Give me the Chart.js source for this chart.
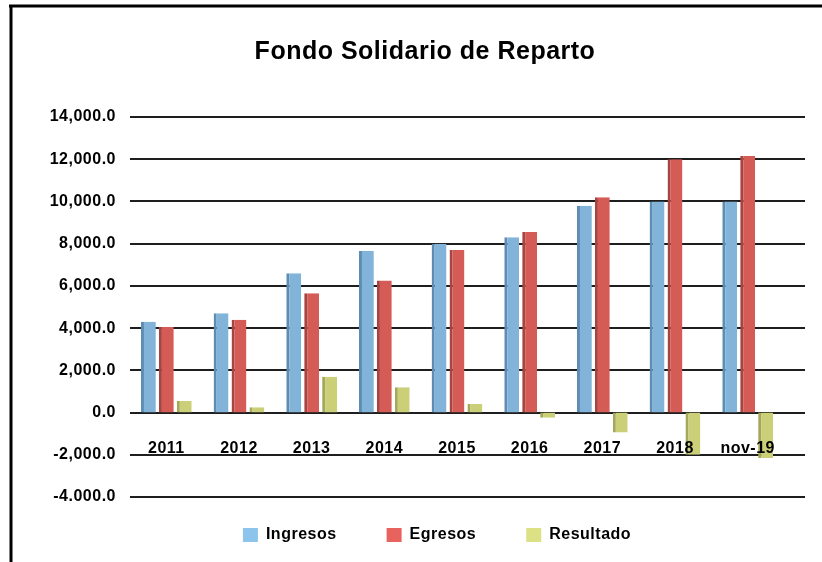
<!DOCTYPE html>
<html>
<head>
<meta charset="utf-8">
<script src="https://cdn.jsdelivr.net/npm/chart.js@4"></script>
<style>
  html, body { margin: 0; padding: 0; background: #ffffff; }
  #wrap { position: relative; width: 822px; height: 562px; }
</style>
</head>
<body>
<div id="wrap"><canvas id="c" width="822" height="562"></canvas></div>
<script>
// ---- data ----
const categories = ['2011', '2012', '2013', '2014', '2015', '2016', '2017', '2018', 'nov-19'];
const ingresos   = [4300, 4700, 6600, 7650, 8000, 8300, 9800, 10000, 10000];
const egresos    = [4050, 4400, 5650, 6250, 7700, 8550, 10200, 12000, 12150];
const resultado  = [550, 250, 1700, 1200, 400, -250, -950, -2000, -2150];
const seriesNames = ['Ingresos', 'Egresos', 'Resultado'];
const yTickValues = [-4000, -2000, 0, 2000, 4000, 6000, 8000, 10000, 12000, 14000];
const yTickLabels = ['-4.000.0', '-2,000.0', '0.0', '2,000.0', '4,000.0', '6,000.0', '8,000.0', '10,000.0', '12,000.0', '14,000.0'];

// ---- styles ----
const FONT = "'Liberation Sans', Arial, Helvetica, sans-serif";
const barColors    = ['#82B4DA', '#D55B56', '#CACF78'];
const sideColors   = ['#5E8DB3', '#A84440', '#A3A85A'];
const legendColors = ['#8DC4EC', '#E8625E', '#DDE185'];

const spacingPlugin = {
  id: 'spacing',
  beforeUpdate(chart) { chart.ctx.letterSpacing = '0.5px'; },
  beforeDraw(chart) { chart.ctx.letterSpacing = '0.5px'; }
};

const framePlugin = {
  id: 'frame',
  beforeDraw(chart) {
    const ctx = chart.ctx;
    ctx.save();
    ctx.strokeStyle = '#000';
    ctx.lineWidth = 3;
    ctx.beginPath();
    ctx.moveTo(9, 6); ctx.lineTo(chart.width, 6);
    ctx.moveTo(11, 5); ctx.lineTo(11, chart.height);
    ctx.stroke();
    ctx.restore();
  }
};

const gridPlugin = {
  id: 'extGrid',
  beforeDatasetsDraw(chart) {
    const y = chart.scales.y, a = chart.chartArea, ctx = chart.ctx;
    ctx.save();
    ctx.strokeStyle = '#1e1e1e';
    ctx.lineWidth = 2;
    y.ticks.forEach(t => {
      const py = Math.round(y.getPixelForValue(t.value));
      ctx.beginPath();
      ctx.moveTo(a.left, py);
      ctx.lineTo(a.right + 21, py);
      ctx.stroke();
    });
    ctx.restore();
  }
};

const legendShift = {
  id: 'legendShift',
  afterLayout(chart) {
    const l = chart.legend;
    if (l) { l.top -= 20; l.left += 12; l.right += 12; }
  }
};

const seriesData = [ingresos, egresos, resultado];

new Chart(document.getElementById('c'), {
  type: 'bar',
  data: {
    labels: categories,
    datasets: seriesNames.map((name, i) => ({
      label: name,
      data: seriesData[i],
      backgroundColor: barColors[i],
      borderColor: sideColors[i],
      borderWidth: { left: 3, right: 0, top: 0, bottom: 0 },
      borderSkipped: false,
      categoryPercentage: 0.74,
      barPercentage: 0.83
    }))
  },
  options: {
    responsive: false,
    animation: false,
    devicePixelRatio: 1,
    layout: { padding: { left: 40, right: 12, top: 0, bottom: 5 } },
    plugins: {
      title: {
        display: true,
        text: 'Fondo Solidario de Reparto',
        color: '#000',
        font: { family: FONT, size: 25, weight: 'bold' },
        padding: { top: 37, bottom: 50 }
      },
      legend: {
        position: 'bottom',
        maxHeight: 60,
        labels: {
          color: '#000',
          font: { family: FONT, size: 16, weight: 'bold' },
          boxWidth: 15,
          boxHeight: 14,
          padding: 50,
          generateLabels(chart) {
            return chart.data.datasets.map((d, i) => ({
              text: d.label,
              fillStyle: legendColors[i],
              strokeStyle: legendColors[i],
              lineWidth: 0,
              hidden: false,
              datasetIndex: i
            }));
          }
        }
      },
      tooltip: { enabled: false }
    },
    scales: {
      x: {
        position: { y: 0 },
        grid: { display: false, drawTicks: false },
        border: { display: false },
        ticks: {
          z: 1,
          color: '#000',
          font: { family: FONT, size: 16, weight: 'bold' },
          padding: 26,
          maxRotation: 0
        },
        afterFit(s) { s.height = 0; }
      },
      y: {
        min: -4000,
        max: 14000,
        grid: { display: false, drawTicks: false },
        border: { display: false },
        afterBuildTicks(s) { s.ticks = yTickValues.map(v => ({ value: v })); },
        ticks: {
          color: '#000',
          font: { family: FONT, size: 16, weight: 'bold' },
          padding: 14,
          callback(v) { const k = yTickValues.indexOf(v); return k >= 0 ? yTickLabels[k] : ''; }
        },
        afterFit(s) { s.width = 90; }
      },
      yR: {
        type: 'linear',
        position: 'right',
        display: true,
        grid: { display: false, drawTicks: false },
        border: { display: false },
        ticks: { display: false },
        afterFit(s) { s.width = 26; }
      }
    }
  },
  plugins: [spacingPlugin, framePlugin, gridPlugin, legendShift]
});
</script>
</body>
</html>
